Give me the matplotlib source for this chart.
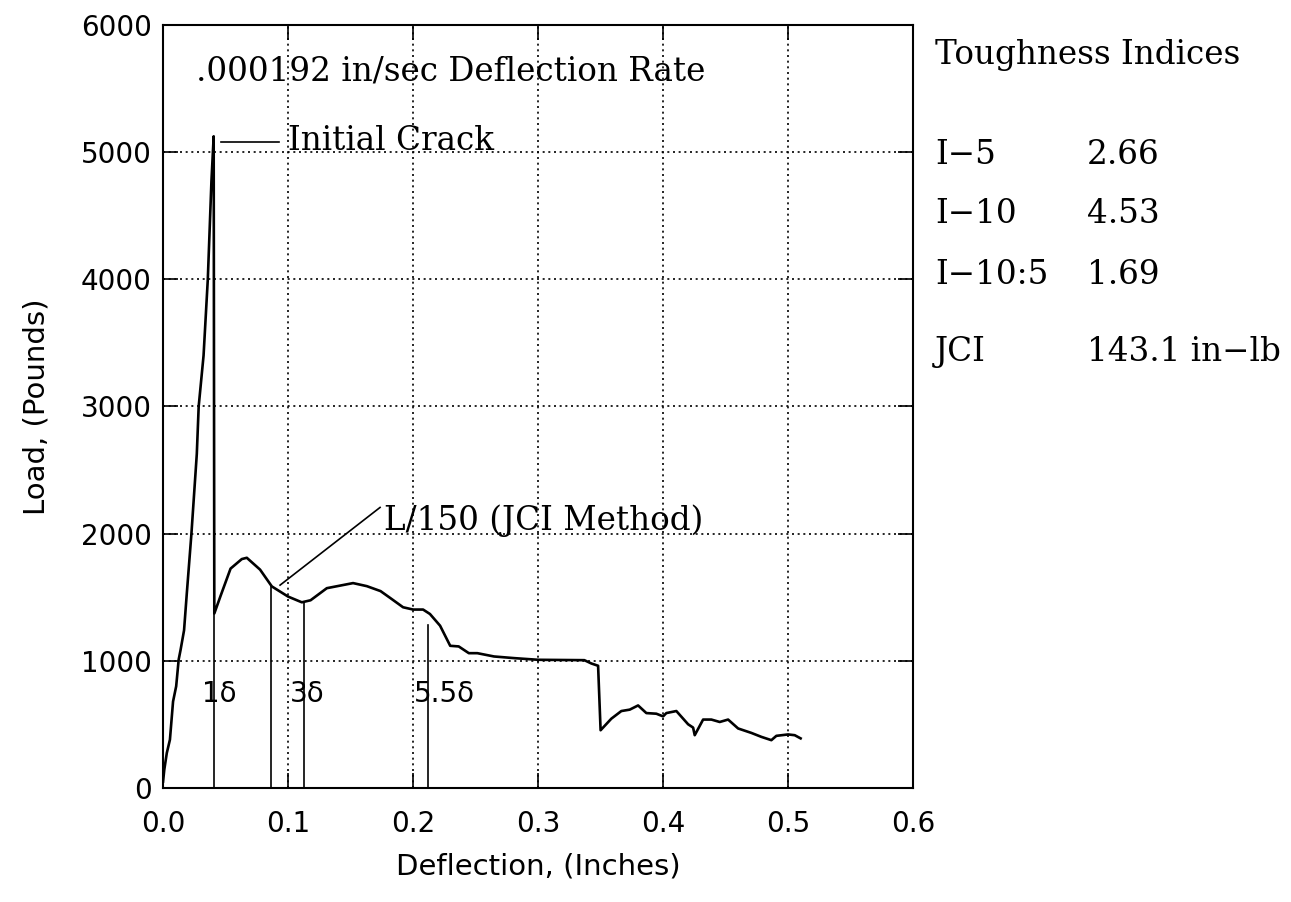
import matplotlib
matplotlib.use("Agg")
import matplotlib.pyplot as plt

# load-deflection curve (inches, pounds)
deflection = [0.0, 0.001, 0.003, 0.0055, 0.008, 0.0105, 0.0125, 0.014, 0.0168, 0.019,
              0.0227, 0.027, 0.0285, 0.0324, 0.0358, 0.0387, 0.0405, 0.041, 0.046, 0.054,
              0.063, 0.067, 0.0776, 0.087, 0.1, 0.111, 0.118, 0.131, 0.152, 0.163,
              0.174, 0.182, 0.192, 0.2, 0.208, 0.2135, 0.2216, 0.2297, 0.2365, 0.2446,
              0.2514, 0.2648, 0.281, 0.3, 0.337, 0.3426, 0.348, 0.35, 0.3586, 0.3666,
              0.3733, 0.38, 0.3866, 0.3946, 0.4, 0.4026, 0.4106, 0.42, 0.424, 0.4253,
              0.432, 0.4386, 0.4453, 0.452, 0.46, 0.4706, 0.4786, 0.4866, 0.4906, 0.5,
              0.5053, 0.51]
load = [50, 145, 275, 380, 680, 800, 1010, 1085, 1240, 1530,
        2000, 2627, 3000, 3400, 4000, 4770, 5124, 1372, 1510, 1725,
        1800, 1810, 1717, 1585, 1505, 1460, 1476, 1571, 1611, 1587,
        1548, 1492, 1421, 1403, 1403, 1368, 1276, 1118, 1113, 1060,
        1060, 1034, 1021, 1008, 1005, 979, 961, 454, 545, 605,
        616, 649, 589, 584, 563, 589, 605, 501, 475, 415,
        538, 538, 519, 538, 468, 433, 402, 376, 410, 421,
        415, 390]

# vertical marker lines (deflection, top load)
marker_x = [0.0405, 0.086, 0.113, 0.212]
marker_top = [1372, 1585, 1460, 1280]
marker_labels = ["1δ", "3δ", "5.5δ"]
marker_label_x = [0.045, 0.115, 0.225]

index_names = ["I−5", "I−10", "I−10:5", "JCI"]
index_values = ["2.66", "4.53", "1.69", "143.1 in−lb"]
index_rows_px = [155, 214, 275, 352]

fig = plt.figure(figsize=(12.91, 9.02), dpi=100)
ax = fig.add_axes([0.1263, 0.1264, 0.581, 0.846])

ax.plot(deflection, load, color="black", lw=1.9)
for x, top in zip(marker_x, marker_top):
    ax.plot([x, x], [0, top], color="black", lw=1.2)

ax.set_xlim(0, 0.6)
ax.set_ylim(0, 6000)
ax.set_xticks([0, 0.1, 0.2, 0.3, 0.4, 0.5, 0.6])
ax.set_xticklabels(["0.0", "0.1", "0.2", "0.3", "0.4", "0.5", "0.6"])
ax.set_yticks(range(0, 6001, 1000))
ax.grid(True, color="black", linestyle=(0, (1.2, 2.2)), linewidth=1.2)
ax.tick_params(direction="in", top=True, right=True, length=11, width=1.2,
               labelsize=20, pad=8)
ax.tick_params(axis="x", pad=16)
for s in ax.spines.values():
    s.set_linewidth(1.5)

ax.set_xlabel("Deflection, (Inches)", fontsize=21, labelpad=10)
ax.set_ylabel("Load, (Pounds)", fontsize=21, labelpad=22)

serif = "DejaVu Serif"
fs = 23.5
ax.text(0.026, 5636, ".000192 in/sec Deflection Rate", family=serif, fontsize=fs,
        va="center", ha="left")
ax.plot([0.046, 0.0926], [5078, 5078], color="black", lw=1.2)
ax.text(0.1, 5091, "Initial Crack", family=serif, fontsize=fs, va="center", ha="left")
ax.plot([0.0936, 0.1736], [1595, 2206], color="black", lw=1.2)
ax.text(0.177, 2100, "L/150 (JCI Method)", family=serif, fontsize=fs, va="center",
        ha="left")
for lab, x in zip(marker_labels, marker_label_x):
    ax.text(x, 738, lab, fontsize=20, va="center", ha="center")

fig.text(0.7243, 1 - 55 / 902, "Toughness Indices", family=serif, fontsize=fs, va="center")
for name, val, ypx in zip(index_names, index_values, index_rows_px):
    y = 1 - ypx / 902
    fig.text(0.7243, y, name, family=serif, fontsize=fs, va="center")
    fig.text(0.842, y, val, family=serif, fontsize=fs, va="center")

fig.savefig("out.png", dpi=100)
